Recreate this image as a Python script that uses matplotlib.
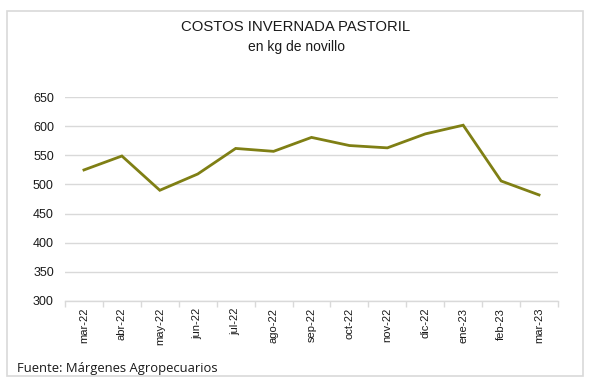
import matplotlib.pyplot as plt
import numpy as np
from matplotlib.patches import Rectangle

# data
meses = ['mar-22', 'abr-22', 'may-22', 'jun-22', 'jul-22', 'ago-22', 'sep-22',
         'oct-22', 'nov-22', 'dic-22', 'ene-23', 'feb-23', 'mar-23']
costos = [525, 549, 490, 518, 562, 557, 581, 567, 563, 587, 602, 506, 482]
yticks = [300, 350, 400, 450, 500, 550, 600, 650]


def main():
    plt.rcParams['font.family'] = ['Liberation Sans', 'DejaVu Sans']
    fig = plt.figure(figsize=(5.95, 3.84), dpi=100)

    # outer frame
    fig.patches.append(Rectangle((7 / 595, 1 - 376 / 384), 576 / 595, 365 / 384,
                                 transform=fig.transFigure, fill=False,
                                 edgecolor='#d9d9d9', linewidth=1.2))

    ax = fig.add_axes([65 / 595, 1 - 300.7 / 384, 493 / 595, 203.4 / 384])
    x = np.arange(len(meses))
    ax.plot(x, costos, color='#7f7f14', linewidth=2.0, solid_joinstyle='miter')

    ax.set_xlim(-0.5, len(meses) - 0.5)
    ax.set_ylim(300, 650)
    ax.set_yticks(yticks)
    ax.set_yticklabels([str(v) for v in yticks], fontsize=9, color='#1a1a1a')
    ax.grid(axis='y', color='#d9d9d9', linewidth=1)
    ax.set_axisbelow(True)

    ax.set_xticks(x)
    ax.set_xticklabels(meses, rotation=90, fontsize=8, color='#1a1a1a')
    ax.set_xticks(np.arange(-0.5, len(meses), 1), minor=True)
    ax.tick_params(axis='x', which='major', length=0, pad=5)
    ax.tick_params(axis='x', which='minor', length=4, color='#d9d9d9', width=1)
    ax.tick_params(axis='y', length=0, pad=8)

    for s in ['top', 'right', 'left']:
        ax.spines[s].set_visible(False)
    ax.spines['bottom'].set_color('#d9d9d9')
    ax.spines['bottom'].set_linewidth(1)

    fig.text(296 / 595, 1 - 27 / 384, 'COSTOS INVERNADA PASTORIL', ha='center',
             va='center', fontsize=10.7, color='#1a1a1a')
    fig.text(296 / 595, 1 - 47 / 384, 'en kg de novillo', ha='center',
             va='center', fontsize=10, color='#1a1a1a')
    fig.text(17 / 595, 1 - 372 / 384, 'Fuente: Márgenes Agropecuarios', ha='left',
             va='baseline', fontsize=9.4, color='#1a1a1a',
             family=['Open Sans', 'DejaVu Sans'])

    fig.savefig('out.png', dpi=100)


main()
